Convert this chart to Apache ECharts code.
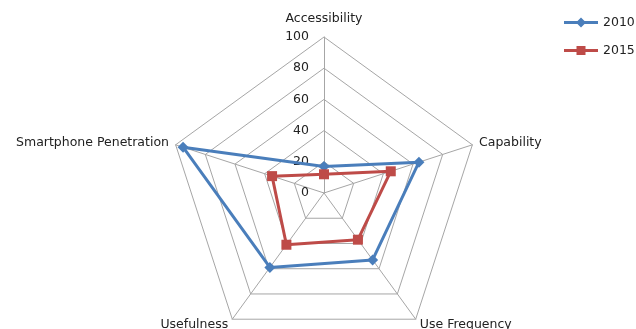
<!DOCTYPE html>
<html>
<head>
<meta charset="utf-8">
<script src="https://cdn.jsdelivr.net/npm/echarts@6/dist/echarts.min.js"></script>
<style>
  html, body { margin: 0; padding: 0; background: #ffffff; }
  #chart { width: 636px; height: 329px; }
</style>
</head>
<body>
<div id="chart"></div>
<script>
// Indicators listed in the radar's drawing order (top, then counter-clockwise)
const indicators = ['Accessibility', 'Smartphone Penetration', 'Usefulness', 'Use Frequency', 'Capability'];
const values2010 = [17, 95, 59, 53, 64];
const values2015 = [12, 35, 41, 37, 45];
const seriesNames = ['2010', '2015'];
const axisMax = 100;
const tickStep = 20;

const FONT = '"DejaVu Sans", sans-serif';
const BLUE = '#4a7ebb';
const RED = '#be4b48';

// Legend icon: a short line with the series marker in the middle
const diamondIcon = 'path://M0,3.6L34,3.6L34,6.4L0,6.4Z M17,0L22,5L17,10L12,5Z';
const squareIcon = 'path://M0,3.6L34,3.6L34,6.4L0,6.4Z M12.5,0.5L21.5,0.5L21.5,9.5L12.5,9.5Z';

const chart = echarts.init(document.getElementById('chart'), null, { renderer: 'canvas' });

chart.setOption({
  animation: false,
  backgroundColor: '#ffffff',
  textStyle: { fontFamily: FONT },
  legend: {
    orient: 'vertical',
    left: 564,
    top: 16,
    padding: 0,
    itemWidth: 34,
    itemHeight: 10,
    itemGap: 15,
    textStyle: { fontFamily: FONT, fontSize: 12.5, color: '#222222' },
    data: [
      { name: seriesNames[0], icon: diamondIcon },
      { name: seriesNames[1], icon: squareIcon }
    ]
  },
  radar: {
    center: [324, 193],
    radius: 156,
    shape: 'polygon',
    splitNumber: axisMax / tickStep,
    axisNameGap: 7,
    axisName: {
      color: '#222222',
      fontFamily: FONT,
      fontSize: 12.5,
      formatter: function (name) {
        return name === indicators[0] ? '{top|' + name + '}' : name;
      },
      rich: {
        top: { fontFamily: FONT, fontSize: 12.5, color: '#222222', padding: [0, 0, 5, 0] }
      }
    },
    indicator: indicators.map(function (name, i) {
      const ind = { name: name, min: 0, max: axisMax };
      if (i === 0) {
        ind.axisLabel = { show: true };
      }
      return ind;
    }),
    axisLine: { lineStyle: { color: '#a6a6a6', width: 1 } },
    splitLine: { lineStyle: { color: '#a6a6a6', width: 1 } },
    splitArea: { show: false },
    axisTick: { show: false },
    axisLabel: {
      show: false,
      margin: 15,
      color: '#222222',
      fontFamily: FONT,
      fontSize: 12.5
    }
  },
  series: [
    {
      type: 'radar',
      name: seriesNames[0],
      symbol: 'diamond',
      symbolSize: 11,
      itemStyle: { color: BLUE },
      lineStyle: { color: BLUE, width: 3 },
      data: [{ name: seriesNames[0], value: values2010 }],
      z: 2
    },
    {
      type: 'radar',
      name: seriesNames[1],
      symbol: 'rect',
      symbolSize: 10,
      itemStyle: { color: RED },
      lineStyle: { color: RED, width: 3 },
      data: [{ name: seriesNames[1], value: values2015 }],
      z: 3
    }
  ]
});
</script>
</body>
</html>
